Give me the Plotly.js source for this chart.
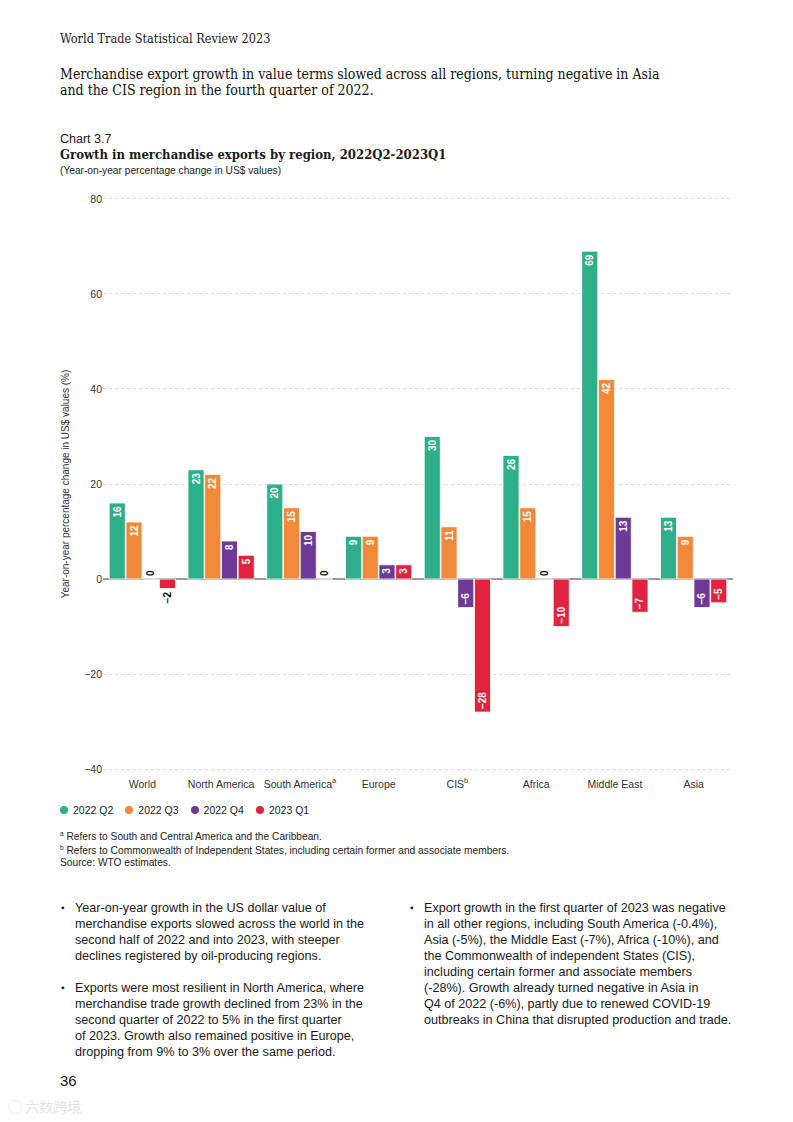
<!DOCTYPE html>
<html>
<head>
<meta charset="utf-8">
<script src="https://cdn.plot.ly/plotly-3.0.1.min.js"></script>
<style>
  html, body { margin:0; padding:0; background:#fff; }
  #page { position:relative; width:793px; height:1122px; overflow:hidden; background:#fff; color:#1a1a1a; }
  .abs { position:absolute; white-space:nowrap; }
  .slab { font-family:"DejaVu Serif Condensed","DejaVu Serif",serif; font-stretch:condensed; }
  .sans { font-family:"Liberation Sans","Arial",sans-serif; }
  #chart { position:absolute; left:0; top:0; width:793px; height:840px; }
  .bul { position:absolute; font-family:"Liberation Sans",Arial,sans-serif; font-size:12.6px; line-height:16px; color:#1a1a1a; white-space:nowrap; }
  .bul .mk { position:absolute; left:-14px; top:0; font-size:10px; }
  #legend { position:absolute; left:60px; top:804px; display:flex; font-family:"Liberation Sans",Arial,sans-serif; font-size:10.5px; color:#222; }
  #legend .it { display:flex; align-items:center; margin-right:12px; }
  #legend .dot { width:8px; height:8px; border-radius:50%; margin-right:5px; }
  .fn { font-family:"Liberation Sans",Arial,sans-serif; font-size:10.2px; color:#222; }
</style>
</head>
<body>
<div id="page">
  <div id="chart"></div>

  <div class="abs slab" style="left:60px; top:31px; font-size:12.6px;">World Trade Statistical Review 2023</div>
  <div class="abs slab" style="left:60px; top:66px; font-size:14px; line-height:16px; color:#111;">Merchandise export growth in value terms slowed across all regions, turning negative in Asia<br>and the CIS region in the fourth quarter of 2022.</div>

  <div class="abs sans" style="left:60px; top:132px; font-size:12.5px;">Chart 3.7</div>
  <div class="abs slab" style="left:60px; top:147px; font-size:13px; font-weight:bold;">Growth in merchandise exports by region, 2022Q2-2023Q1</div>
  <div class="abs sans" style="left:60px; top:165px; font-size:10.2px; color:#222;">(Year-on-year percentage change in US$ values)</div>

  <div id="legend"></div>

  <div class="abs fn" style="left:60px; top:830px;"><sup style="font-size:6.5px;">a</sup> Refers to South and Central America and the Caribbean.</div>
  <div class="abs fn" style="left:60px; top:844px;"><sup style="font-size:6.5px;">b</sup> Refers to Commonwealth of Independent States, including certain former and associate members.</div>
  <div class="abs fn" style="left:60px; top:857px;">Source: WTO estimates.</div>

  <div class="bul" style="left:75px; top:900px;"><span class="mk">&#9642;</span>Year-on-year growth in the US dollar value of<br>merchandise exports slowed across the world in the<br>second half of 2022 and into 2023, with steeper<br>declines registered by oil-producing regions.</div>
  <div class="bul" style="left:75px; top:980px;"><span class="mk">&#9642;</span>Exports were most resilient in North America, where<br>merchandise trade growth declined from 23% in the<br>second quarter of 2022 to 5% in the first quarter<br>of 2023. Growth also remained positive in Europe,<br>dropping from 9% to 3% over the same period.</div>
  <div class="bul" style="left:424px; top:900px;"><span class="mk">&#9642;</span>Export growth in the first quarter of 2023 was negative<br>in all other regions, including South America (-0.4%),<br>Asia (-5%), the Middle East (-7%), Africa (-10%), and<br>the Commonwealth of independent States (CIS),<br>including certain former and associate members<br>(-28%). Growth already turned negative in Asia in<br>Q4 of 2022 (-6%), partly due to renewed COVID-19<br>outbreaks in China that disrupted production and trade.</div>

  <div class="abs sans" style="left:60px; top:1072px; font-size:15px;">36</div>
  <div class="abs" style="left:8px; top:1096px; font-family:'Noto Sans CJK SC',sans-serif; font-size:14px; color:#e4e4e4;">&#9711; 六数跨境</div>
</div>

<script>
// ---- data ----
const categories = ["World","North America","South America","Europe","CIS","Africa","Middle East","Asia"];
const tickLabels = ["World","North America","South America<sup>a</sup>","Europe","CIS<sup>b</sup>","Africa","Middle East","Asia"];
const seriesNames = ["2022 Q2","2022 Q3","2022 Q4","2023 Q1"];
const q2_2022 = [16, 23, 20, 9, 30, 26, 69, 13];
const q3_2022 = [12, 22, 15, 9, 11, 15, 42, 9];
const q4_2022 = [0, 8, 10, 3, -6, 0, 13, -6];
const q1_2023 = [-2, 5, 0, 3, -28, -10, -7, -5];
const yTicks = [-40, -20, 0, 20, 40, 60, 80];

// ---- styles ----
const colors = ["#2db08a", "#f0893a", "#6d3b96", "#e1233f"];
const seriesValues = [q2_2022, q3_2022, q4_2022, q1_2023];

const fmt = v => String(v).replace('-', '\u2212');

const traces = seriesValues.map((vals, i) => ({
  type: 'bar',
  name: seriesNames[i],
  x: categories,
  y: vals,
  marker: { color: colors[i], line: { color: '#ffffff', width: 0.8 } },
  text: vals.map(fmt),
  textposition: vals.map(v => Math.abs(v) < 3 ? 'outside' : 'inside'),
  insidetextanchor: 'end',
  textangle: -90,
  constraintext: 'none',
  insidetextfont: { family: 'Liberation Sans, Arial, sans-serif', size: 10, color: '#ffffff', weight: 'bold' },
  outsidetextfont: { family: 'Liberation Sans, Arial, sans-serif', size: 10, color: '#111111', weight: 'bold' },
  cliponaxis: false,
  hoverinfo: 'skip',
  showlegend: false
}));

const layout = {
  width: 793, height: 840,
  margin: { l: 103, r: 60, t: 197, b: 69, pad: 0 },
  paper_bgcolor: 'rgba(0,0,0,0)',
  plot_bgcolor: 'rgba(0,0,0,0)',
  barmode: 'group',
  bargap: 0.15,
  bargroupgap: 0.04,
  showlegend: false,
  font: { family: 'Liberation Sans, Arial, sans-serif', color: '#333' },
  xaxis: {
    type: 'category',
    tickvals: categories,
    ticktext: tickLabels,
    tickfont: { size: 10.5, color: '#333' },
    ticklabelstandoff: 5,
    showgrid: false, showline: false, ticks: '', zeroline: false,
    automargin: false
  },
  yaxis: {
    range: [-40.4, 80.4],
    tickvals: yTicks,
    ticktext: yTicks.map(fmt),
    tickfont: { size: 10.5, color: '#333' },
    showgrid: true, gridcolor: '#dcdcdc', griddash: 'dot', gridwidth: 1,
    zeroline: true, zerolinecolor: '#9c9c9c', zerolinewidth: 1.5,
    showline: false, ticks: '',
    automargin: false,
    title: { text: 'Year-on-year percentage change in US$ values (%)', font: { size: 10, color: '#333' }, standoff: 12 }
  }
};

Plotly.newPlot('chart', traces, layout, { staticPlot: true, displayModeBar: false });

// legend built from series arrays
const lg = document.getElementById('legend');
seriesNames.forEach((n, i) => {
  const it = document.createElement('div'); it.className = 'it';
  const d = document.createElement('span'); d.className = 'dot'; d.style.background = colors[i];
  const t = document.createElement('span'); t.textContent = n;
  it.appendChild(d); it.appendChild(t); lg.appendChild(it);
});
</script>
</body>
</html>
